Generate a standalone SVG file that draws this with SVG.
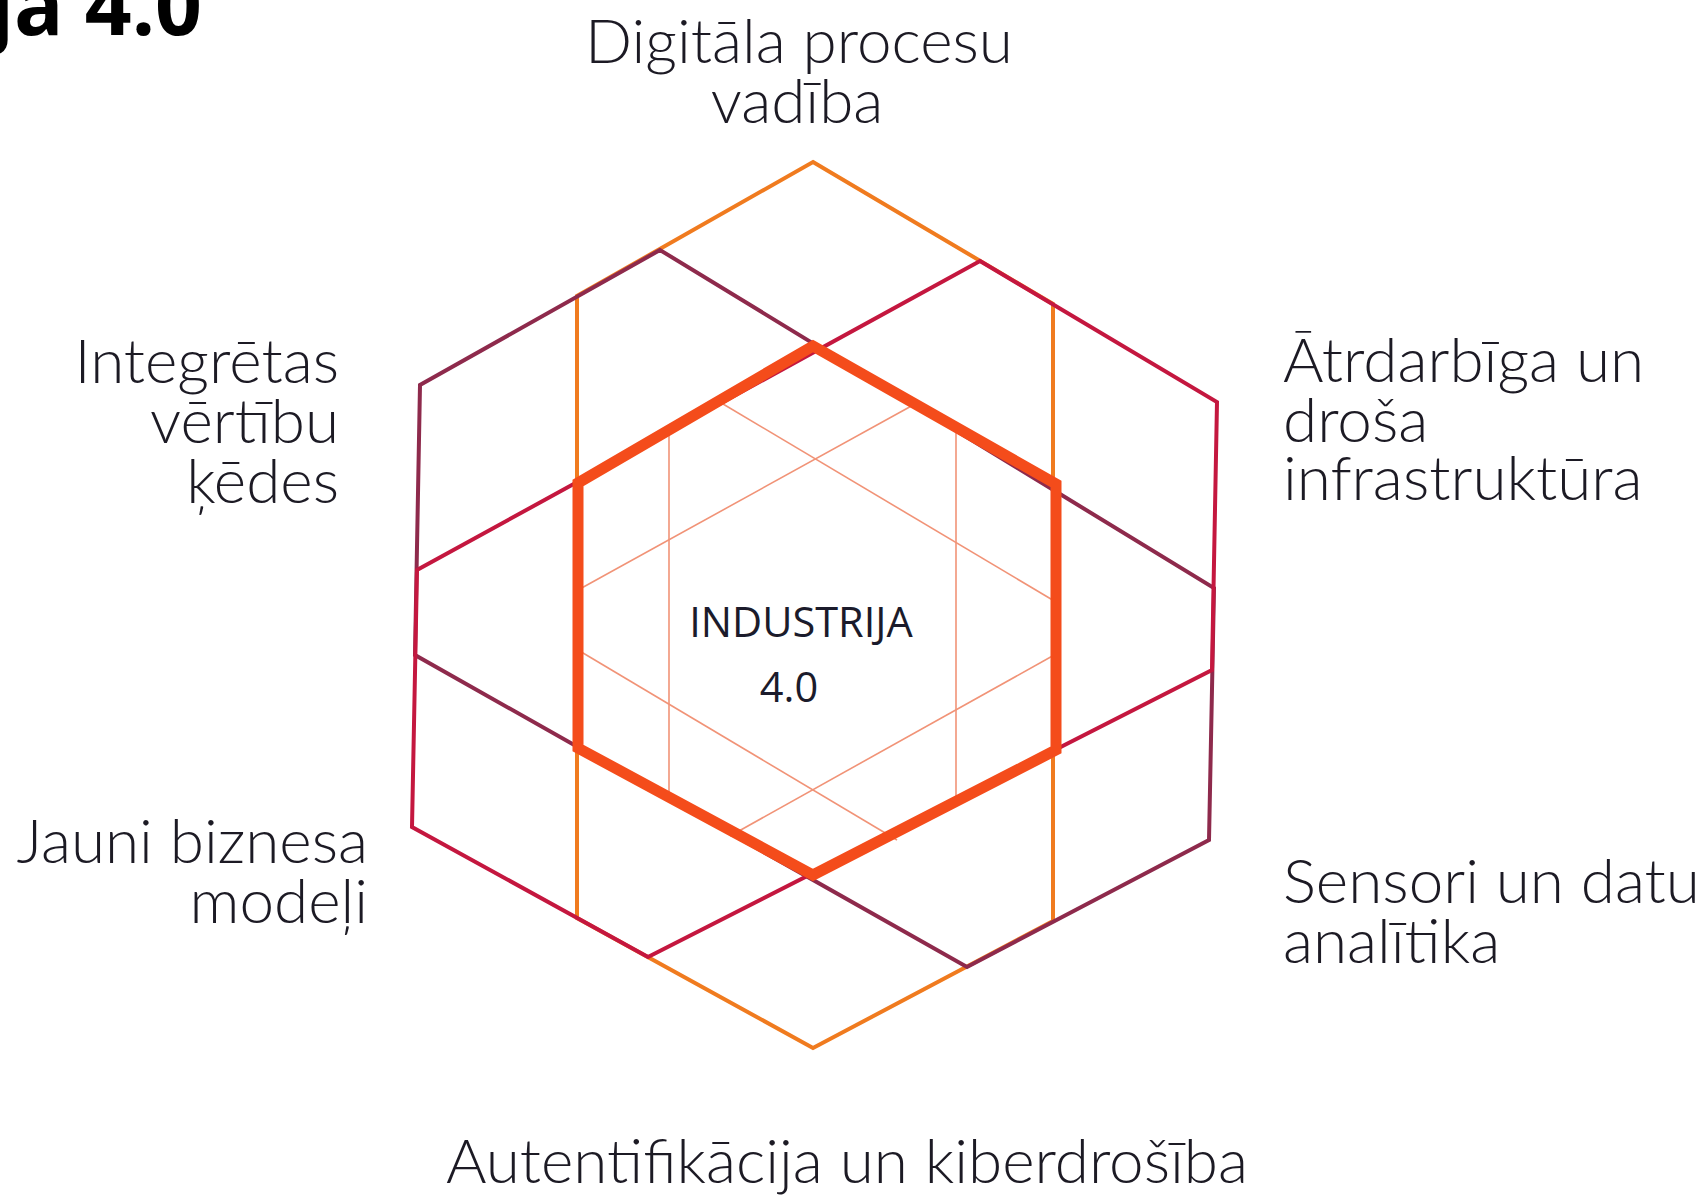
<svg xmlns="http://www.w3.org/2000/svg" width="1701" height="1196" viewBox="0 0 1701 1196">
<style>
.lbl{font-family:Lato,"Open Sans","Liberation Sans",sans-serif;font-weight:300;font-size:62px;fill:#1c1a24}
.ctr{font-family:"Open Sans","Liberation Sans",sans-serif;font-size:41.5px;fill:#1b1b2b}
.ttl{font-family:"Open Sans","Liberation Sans",sans-serif;font-weight:700;font-size:82px;fill:#000}
.edge{fill:none;stroke-width:4;stroke-linejoin:miter}
.or{stroke:#f07b1f}
.ma{stroke:#8e2a4c}
.cr{stroke:#c4173f}
.thick{fill:none;stroke:#f44c1b;stroke-width:11;stroke-linejoin:miter}
.thin{fill:none;stroke:#f19377;stroke-width:1.6}
</style>
<rect width="1701" height="1196" fill="#fff"/>
<g id="title"><text class="ttl" x="202" y="35" text-anchor="end">ja 4.0</text></g>
<g id="connectors">
<polygon class="edge or" points="813,162 1053,304 1053,921 813,1048 577,918 577,296"/>
<polygon class="edge ma" points="660,250 420,385 415,655 967,967 1209,840 1214,588"/>
<polygon class="edge cr" points="980,261 1217,402 1212,670 648,957 412,827 417,570"/>
<g id="inner-lines">
<line class="thin" x1="669" y1="430" x2="669" y2="797"/>
<line class="thin" x1="956" y1="427" x2="956" y2="801"/>
<line class="thin" x1="578" y1="590" x2="915" y2="404"/>
<line class="thin" x1="718" y1="401" x2="1056" y2="602"/>
<line class="thin" x1="578" y1="650" x2="897" y2="840"/>
<line class="thin" x1="730" y1="836" x2="1056" y2="654"/>
</g>
</g>
<g id="core">
<polygon class="thick" points="813,346 1056,484 1056,750 813,875 578,748 578,483"/>
<text class="ctr" x="801" y="637" text-anchor="middle">INDUSTRIJA</text>
<text class="ctr" x="789" y="702" text-anchor="middle">4.0</text>
</g>
<g id="node-top"><text class="lbl" text-anchor="middle"><tspan x="799" y="63">Digitāla procesu</tspan><tspan x="797" y="123">vadība</tspan></text></g>
<g id="node-upper-left"><text class="lbl" text-anchor="end"><tspan x="339" y="383">Integrētas</tspan><tspan x="339" y="443">vērtību</tspan><tspan x="339" y="503">ķēdes</tspan></text></g>
<g id="node-upper-right"><text class="lbl"><tspan x="1283" y="382">Ātrdarbīga un</tspan><tspan x="1283" y="442">droša</tspan><tspan x="1283" y="500">infrastruktūra</tspan></text></g>
<g id="node-lower-left"><text class="lbl" text-anchor="end"><tspan x="368" y="863">Jauni biznesa</tspan><tspan x="368" y="923">modeļi</tspan></text></g>
<g id="node-lower-right"><text class="lbl"><tspan x="1283" y="903">Sensori un datu</tspan><tspan x="1283" y="963">analītika</tspan></text></g>
<g id="node-bottom"><text class="lbl" x="847" y="1183" text-anchor="middle">Autentifikācija un kiberdrošība</text></g>
</svg>
